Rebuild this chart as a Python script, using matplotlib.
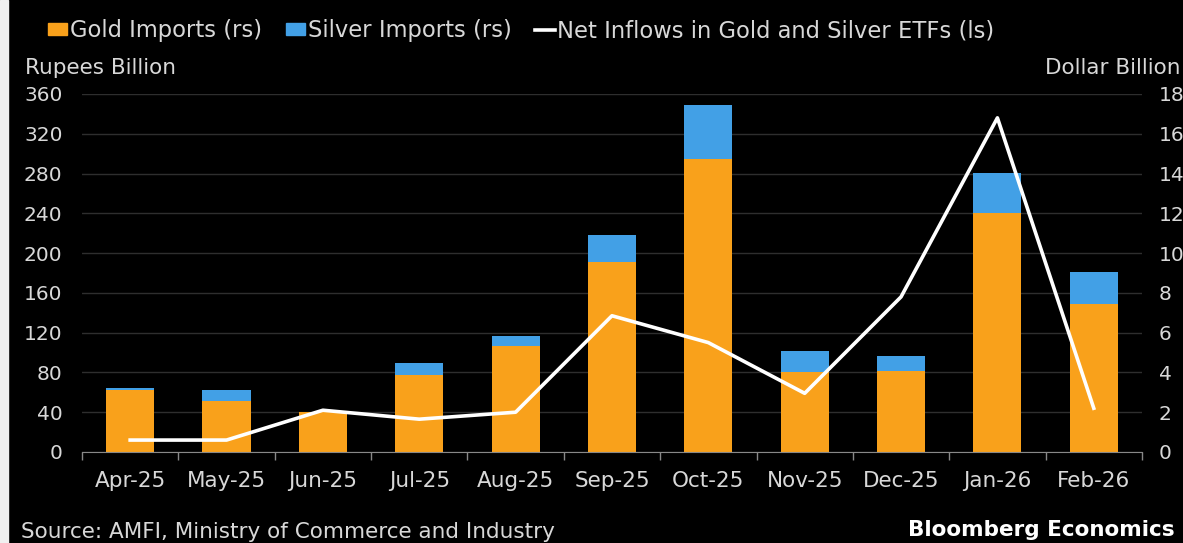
import matplotlib.pyplot as plt
from matplotlib.patches import Patch, Rectangle
from matplotlib.lines import Line2D
import numpy as np

months = ['Apr-25', 'May-25', 'Jun-25', 'Jul-25', 'Aug-25', 'Sep-25',
          'Oct-25', 'Nov-25', 'Dec-25', 'Jan-26', 'Feb-26']
gold_imports = [62, 51, 40, 77, 107, 191, 295, 80, 81, 240, 149]
silver_imports = [2, 11, 0, 12, 10, 27, 54, 22, 16, 41, 32]
etf_inflows = [0.6, 0.6, 2.1, 1.65, 2.0, 6.85, 5.5, 2.95, 7.8, 16.8, 2.2]
left_ticks = [0, 40, 80, 120, 160, 200, 240, 280, 320, 360]
right_ticks = [0, 2, 4, 6, 8, 10, 12, 14, 16, 18]

gold_color = '#F9A11B'
silver_color = '#42A0E6'
text_color = '#D8D8D8'

plt.rcParams['font.family'] = 'DejaVu Sans'

fig = plt.figure(figsize=(11.83, 5.43), dpi=100, facecolor='black')
ax = fig.add_axes([0.0693, 0.1676, 0.896, 0.6593])
ax.set_facecolor('black')

x = np.arange(len(months))
ax.bar(x, gold_imports, width=0.5, color=gold_color, zorder=2)
ax.bar(x, silver_imports, width=0.5, bottom=gold_imports, color=silver_color, zorder=2)

ax.set_ylim(0, 360)
ax.set_xlim(-0.5, len(months) - 0.5)
ax.set_yticks(left_ticks)
ax.set_xticks(x)
ax.set_xticklabels(months)
ax.set_xticks(np.arange(-0.5, len(months)), minor=True)
ax.grid(axis='y', color='#2e2e2e', linewidth=1, zorder=0)
ax.tick_params(axis='x', which='major', length=0, pad=14, labelsize=15.5, labelcolor=text_color)
ax.tick_params(axis='x', which='minor', length=6, color='#888888', width=1)
ax.tick_params(axis='y', length=0, pad=14, labelsize=14.5, labelcolor=text_color)
for s in ['top', 'left', 'right']:
    ax.spines[s].set_visible(False)
ax.spines['bottom'].set_color('#888888')

ax2 = ax.twinx()
ax2.plot(x, etf_inflows, color='white', linewidth=2.6, zorder=3)
ax2.set_ylim(0, 18)
ax2.set_yticks(right_ticks)
ax2.tick_params(axis='y', length=0, pad=12, labelsize=14.5, labelcolor=text_color)
for s in ['top', 'left', 'right', 'bottom']:
    ax2.spines[s].set_visible(False)

handles = [Patch(color=gold_color), Patch(color=silver_color),
           Line2D([0], [0], color='white', linewidth=2.6)]
labels = ['Gold Imports (rs)', 'Silver Imports (rs)',
          'Net Inflows in Gold and Silver ETFs (ls)']
leg = fig.legend(handles, labels, loc='upper left', bbox_to_anchor=(0.0406, 0.965),
                 ncol=3, frameon=False, fontsize=16.3, handlelength=0.85,
                 handleheight=0.4, handletextpad=0.12, columnspacing=1.05,
                 borderpad=0, borderaxespad=0)
for t in leg.get_texts():
    t.set_color(text_color)

fig.text(0.021, 0.874, 'Rupees Billion', color=text_color, fontsize=15.5, va='center')
fig.text(0.998, 0.874, 'Dollar Billion', color=text_color, fontsize=15.5, va='center', ha='right')
fig.text(0.018, 0.02, 'Source: AMFI, Ministry of Commerce and Industry',
         color=text_color, fontsize=15.5, va='center')
fig.text(0.993, 0.024, 'Bloomberg Economics', color='white', fontsize=15.5,
         fontweight='bold', va='center', ha='right')

fig.patches.append(Rectangle((0, 0), 0.007, 1, transform=fig.transFigure,
                             color='#f0f0f0', zorder=0))

fig.savefig('out.png', dpi=100, facecolor='black')
